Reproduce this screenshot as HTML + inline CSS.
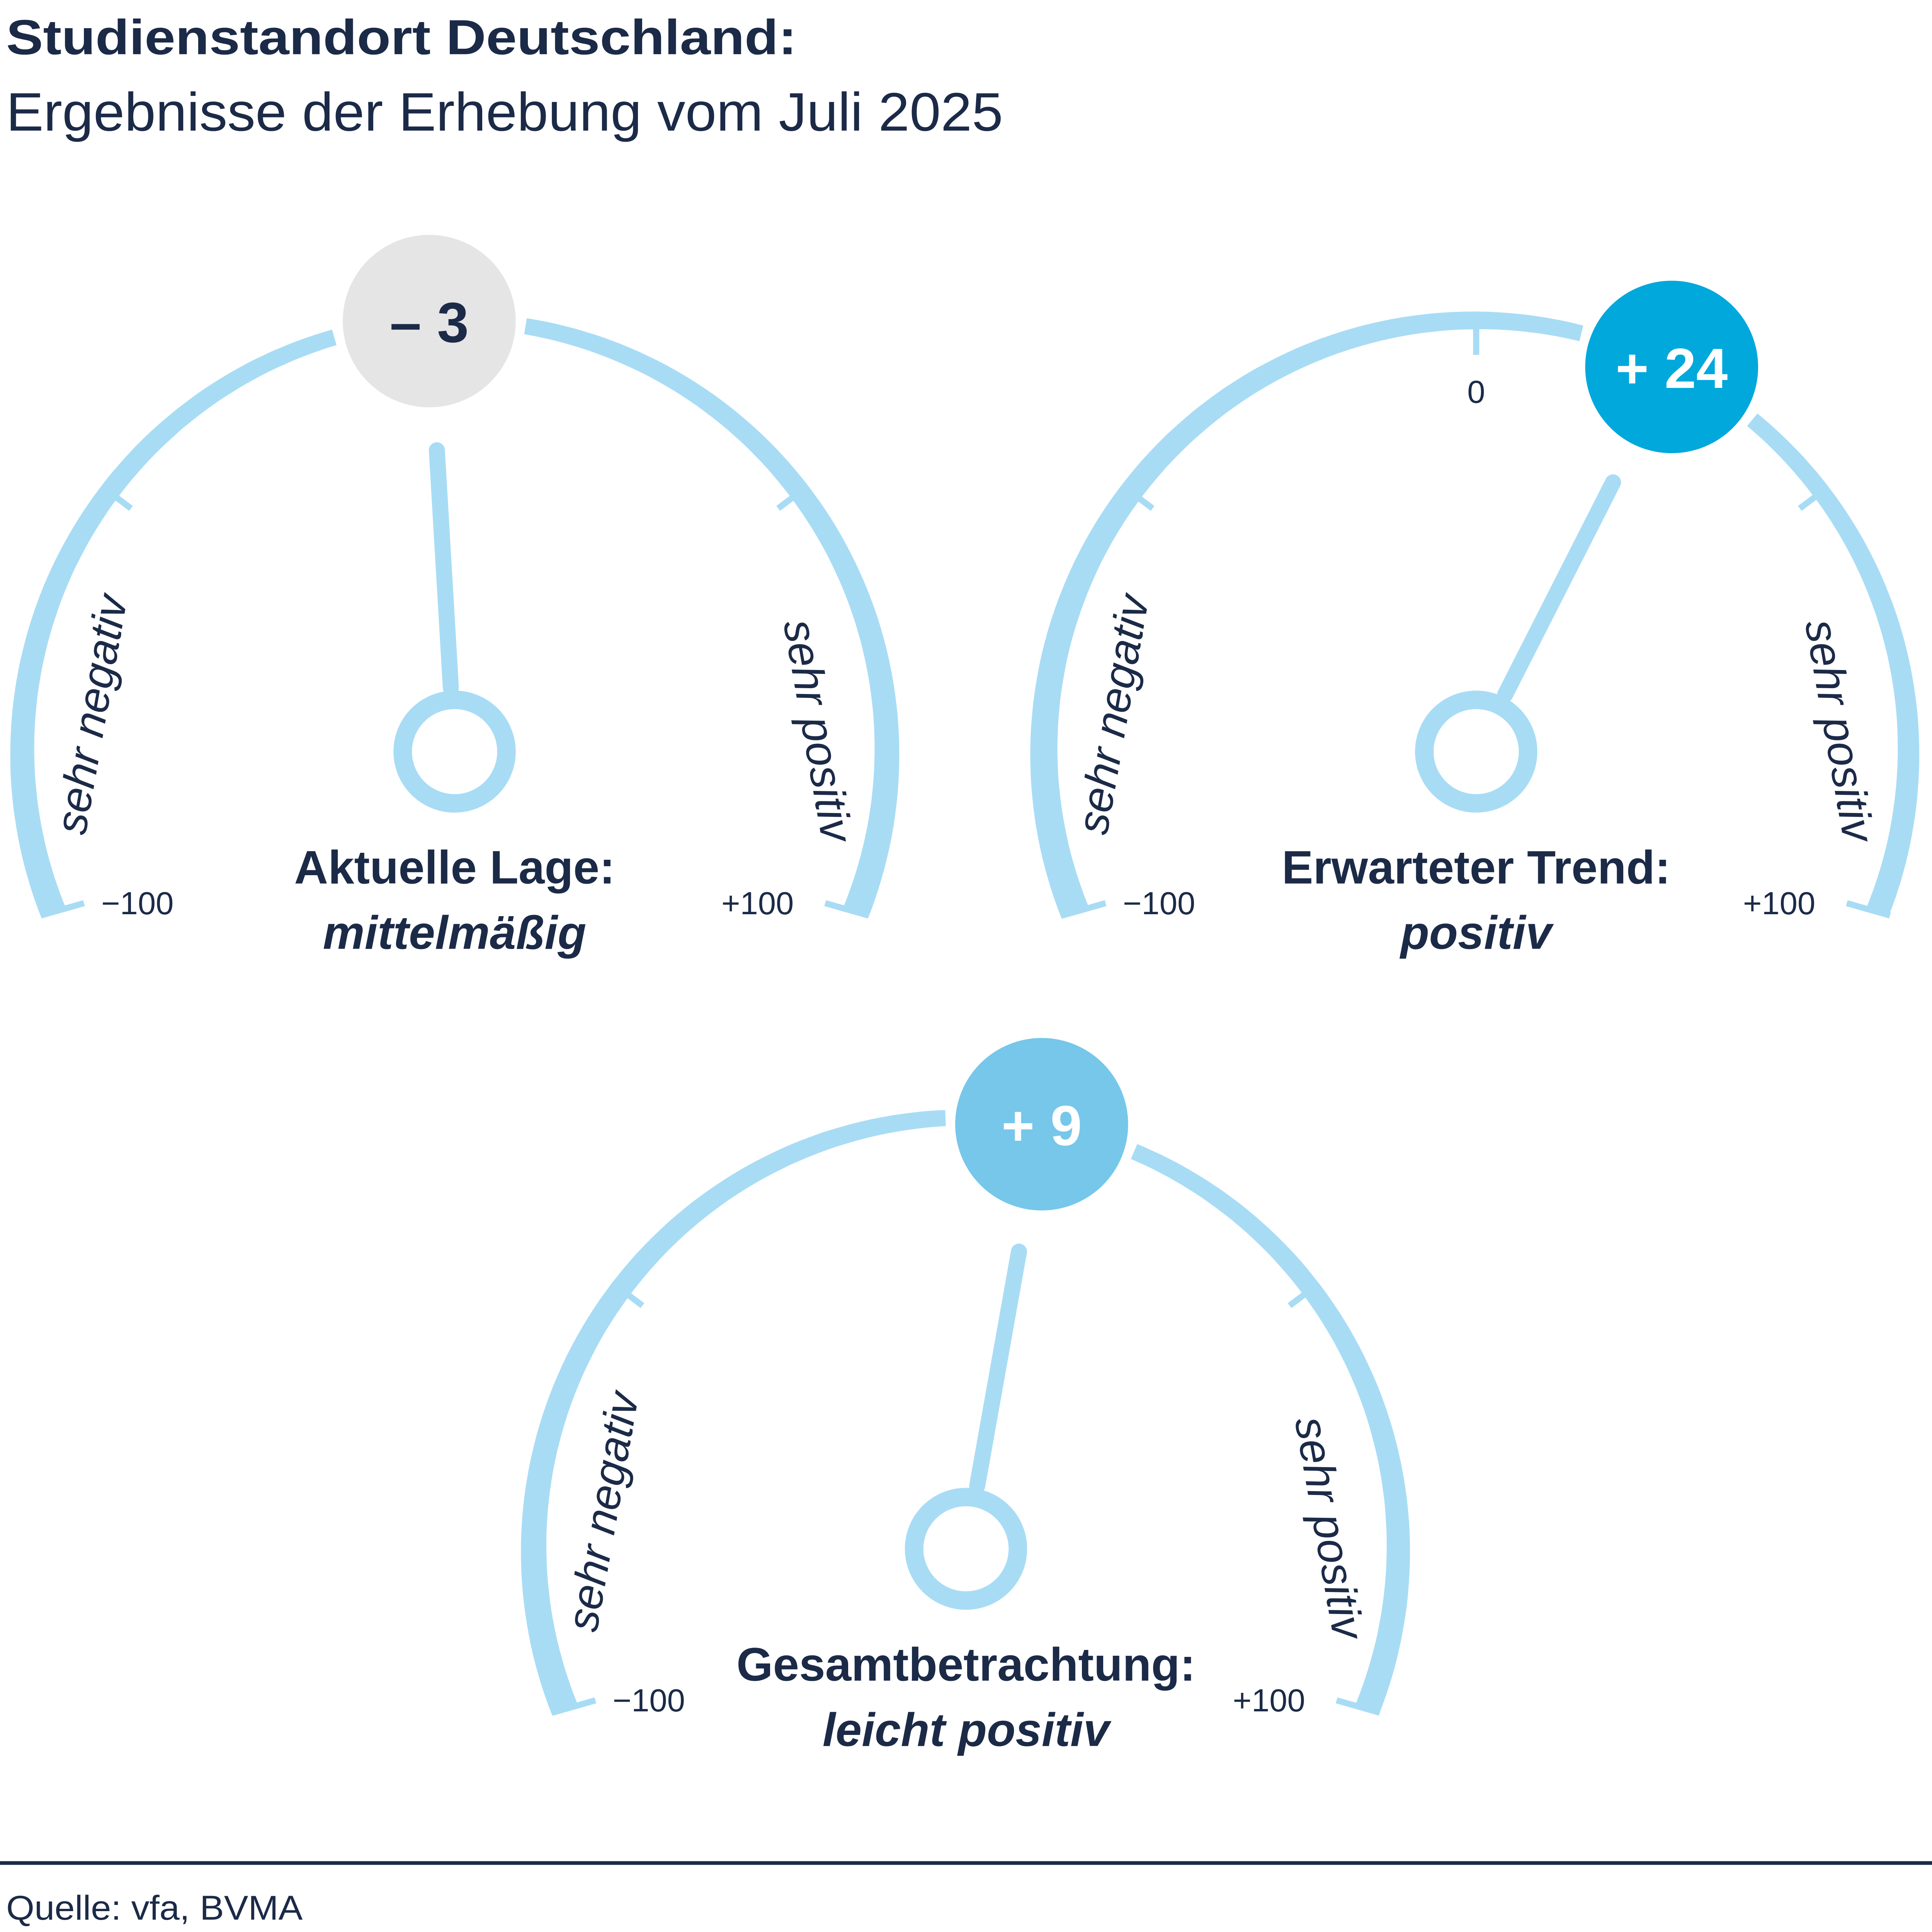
<!DOCTYPE html>
<html><head><meta charset="utf-8">
<style>
html,body{margin:0;padding:0;background:#fff;width:100%;height:100%;overflow:hidden;}
svg{display:block;width:100vw;height:100vh;}
text{font-family:"Liberation Sans",sans-serif;fill:#1b2a47;}
</style></head>
<body>
<svg id="s" viewBox="0 0 1564 1568" preserveAspectRatio="none" xmlns="http://www.w3.org/2000/svg">
<rect width="1564" height="1568" fill="#fff"/>
<text x="5" y="44" font-size="40" font-weight="bold" textLength="640" lengthAdjust="spacingAndGlyphs">Studienstandort Deutschland:</text>
<text x="5" y="106" font-size="44" textLength="807" lengthAdjust="spacingAndGlyphs">Ergebnisse der Erhebung vom Juli 2025</text>
<line x1="0" y1="1512" x2="1564" y2="1512" stroke="#1b2a47" stroke-width="3"/>
<text x="5" y="1558" font-size="28" textLength="240" lengthAdjust="spacingAndGlyphs">Quelle: vfa, BVMA</text>
<g id="g"></g>
</svg>
<script>
var NS="http://www.w3.org/2000/svg",G=document.getElementById("g");
function el(t,a,txt){var e=document.createElementNS(NS,t);for(var k in a)e.setAttribute(k,a[k]);if(txt!=null)e.textContent=txt;G.appendChild(e);return e;}
var AC="#a8dcf5",R=350,MAX=112;
function pt(cx,cy,r,deg){var a=deg*Math.PI/180;return [cx+r*Math.sin(a),cy-r*Math.cos(a)];}
function gauge(cx,cy,val,col,txtcol,valtxt,t1,t2,zero){
  var tv=val/100*MAX, gap=12.8;
  function seg(a0,a1){
    var n=80,outer=[],inner=[];
    for(var i=0;i<=n;i++){var a=a0+(a1-a0)*i/n;var d=Math.abs(a-tv);var w=12+12*Math.min(1,d/140);
      outer.push(pt(cx,cy,R+w/2,a));inner.push(pt(cx,cy,R-w/2,a));}
    var p=outer.concat(inner.reverse()).map(function(q){return q[0].toFixed(1)+","+q[1].toFixed(1)}).join(" ");
    el("polygon",{points:p,fill:AC});
  }
  seg(-MAX,tv-gap);seg(tv+gap,MAX);
  [-53,53].forEach(function(a){var p1=pt(cx,cy,R-22,a),p2=pt(cx,cy,R-5,a);
    el("line",{x1:p1[0],y1:p1[1],x2:p2[0],y2:p2[1],stroke:AC,"stroke-width":5});});
  if(zero){var p1=pt(cx,cy,R-28,0),p2=pt(cx,cy,R-5,0);
    el("line",{x1:p1[0],y1:p1[1],x2:p2[0],y2:p2[1],stroke:AC,"stroke-width":5});
    el("text",{x:cx,y:cy-283,"font-size":26,"text-anchor":"middle"},"0");}
  el("line",{x1:cx-335,x2:cx-300,y1:cy+133,y2:cy+123,stroke:AC,"stroke-width":5});
  el("line",{x1:cx+335,x2:cx+300,y1:cy+133,y2:cy+123,stroke:AC,"stroke-width":5});
  el("text",{x:cx-286,y:cy+132,"font-size":26},"\u2212100");
  el("text",{x:cx+216,y:cy+132,"font-size":26},"+100");
  el("text",{x:0,y:0,"font-size":36,"font-style":"italic","text-anchor":"middle",transform:"translate("+(cx-282)+","+(cy-28)+") rotate(-80)"},"sehr negativ");
  el("text",{x:0,y:0,"font-size":36,"font-style":"italic","text-anchor":"middle",transform:"translate("+(cx+282)+","+(cy-15)+") rotate(80)"},"sehr positiv");
  var n1=pt(cx,cy,52,tv),n2=pt(cx,cy,245,tv);
  el("line",{x1:n1[0],y1:n1[1],x2:n2[0],y2:n2[1],stroke:AC,"stroke-width":13,"stroke-linecap":"round"});
  el("circle",{cx:cx,cy:cy,r:42,fill:"#fff",stroke:AC,"stroke-width":15});
  var c=pt(cx,cy,R,tv);
  el("circle",{cx:c[0],cy:c[1],r:70,fill:col});
  el("text",{x:c[0],y:c[1]+17,"font-size":46,"font-weight":"bold","text-anchor":"middle",style:"fill:"+txtcol},valtxt);
  el("text",{x:cx,y:cy+107,"font-size":38,"font-weight":"bold","text-anchor":"middle"},t1);
  el("text",{x:cx,y:cy+160,"font-size":38,"font-weight":"bold","font-style":"italic","text-anchor":"middle"},t2);
}
gauge(368,610,-3,"#e5e5e5","#1b2a47","\u2013 3","Aktuelle Lage:","mittelmäßig",false);
gauge(1195,610,24,"#00a8dc","#ffffff","+ 24","Erwarteter Trend:","positiv",true);
gauge(782,1257,9,"#76c7ea","#ffffff","+ 9","Gesamtbetrachtung:","leicht positiv",false);
</script>
</body></html>
